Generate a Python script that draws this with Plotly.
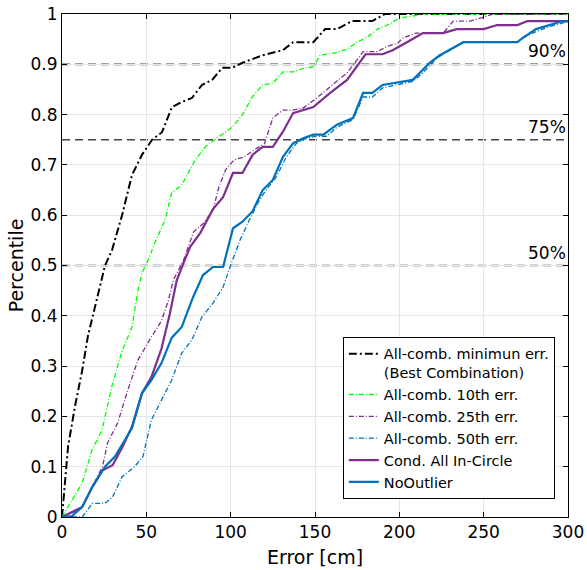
import plotly.graph_objects as go

# ---- data ----
min_x = [0, 3.6, 7.7, 11.9, 15.4, 21.3, 25.5, 29.6, 35.6, 41.5, 47.4, 53.4, 59.3, 65.2, 71, 77, 83, 89, 95, 101, 107, 111, 119, 131, 137, 149, 156, 163, 172, 184, 191.5, 300]
min_y = [0, 0.14, 0.22, 0.29, 0.36, 0.445, 0.50, 0.53, 0.60, 0.68, 0.72, 0.75, 0.765, 0.815, 0.825, 0.833, 0.859, 0.869, 0.893, 0.893, 0.903, 0.908, 0.918, 0.928, 0.944, 0.944, 0.97, 0.97, 0.986, 0.986, 1.0, 1.0]

p10_x = [0, 5.9, 11.9, 17.8, 23.7, 29.6, 35.6, 41.5, 45, 47.4, 51, 55, 61, 65, 71, 79, 85, 92.5, 101, 107, 113, 119, 125, 131, 137, 143, 149, 153, 161, 169, 175, 181, 187, 193, 200, 208, 214, 300]
p10_y = [0, 0.034, 0.067, 0.133, 0.173, 0.26, 0.33, 0.378, 0.45, 0.485, 0.51, 0.545, 0.59, 0.644, 0.66, 0.71, 0.736, 0.755, 0.775, 0.8, 0.836, 0.859, 0.862, 0.885, 0.885, 0.892, 0.895, 0.918, 0.922, 0.93, 0.944, 0.954, 0.97, 0.978, 0.992, 0.996, 1.0, 1.0]

p25_x = [0, 6, 12, 18, 24, 27, 33, 39, 45, 53, 59, 63, 66, 72, 78, 84, 89.5, 93, 97, 102, 108, 114, 120, 125, 131, 137, 143, 151, 159, 169, 173, 178.5, 187, 193, 199, 202, 210, 226, 232, 242, 250, 255.5, 300]
p25_y = [0, 0.008, 0.02, 0.06, 0.1, 0.147, 0.187, 0.252, 0.312, 0.358, 0.39, 0.43, 0.471, 0.51, 0.567, 0.584, 0.61, 0.656, 0.69, 0.71, 0.716, 0.73, 0.742, 0.793, 0.809, 0.809, 0.813, 0.833, 0.855, 0.883, 0.9, 0.925, 0.925, 0.936, 0.942, 0.952, 0.962, 0.962, 0.986, 0.986, 0.994, 1.0, 1.0]

p50_x = [0, 12, 18, 25.5, 30, 35.6, 43, 48, 53, 59, 65, 71, 77, 83, 89.5, 95.5, 99.6, 105.5, 111, 117, 121, 127, 133, 139, 145, 151, 157, 163, 172.5, 178.5, 184, 190, 198.5, 208, 214, 222, 238, 270, 273, 281, 289, 300]
p50_y = [0, 0, 0.027, 0.027, 0.04, 0.08, 0.1, 0.12, 0.193, 0.233, 0.272, 0.326, 0.352, 0.398, 0.425, 0.457, 0.497, 0.55, 0.59, 0.63, 0.65, 0.676, 0.716, 0.743, 0.753, 0.757, 0.757, 0.775, 0.79, 0.835, 0.835, 0.853, 0.859, 0.866, 0.883, 0.912, 0.944, 0.944, 0.952, 0.965, 0.975, 0.985]

cond_x = [0, 6, 12, 18, 24, 30, 36, 41.5, 47.4, 53, 59, 64, 68, 72, 76, 82, 89.5, 95.5, 101.4, 107, 113, 119, 125, 131, 137, 149, 159, 169, 177, 180, 190, 196, 204.5, 214, 226, 234, 250, 258, 270, 276, 300]
cond_y = [0, 0.01, 0.02, 0.06, 0.093, 0.103, 0.14, 0.18, 0.246, 0.278, 0.335, 0.405, 0.47, 0.505, 0.537, 0.565, 0.612, 0.636, 0.684, 0.684, 0.72, 0.736, 0.736, 0.766, 0.803, 0.815, 0.843, 0.869, 0.908, 0.92, 0.92, 0.928, 0.944, 0.962, 0.962, 0.97, 0.97, 0.978, 0.978, 0.986, 0.986]

noout_x = [0, 6, 12, 18, 25.5, 31.4, 37.3, 41.5, 47.4, 53, 59, 65, 71, 77.7, 83.6, 89.5, 95.5, 101.4, 107, 113, 119, 125, 131, 137, 143, 149, 155, 163, 172.5, 178.5, 184, 190, 208, 214, 218, 224, 238, 270, 273, 281, 289, 297, 300]
noout_y = [0, 0.002, 0.02, 0.06, 0.1, 0.12, 0.153, 0.177, 0.246, 0.272, 0.306, 0.356, 0.378, 0.437, 0.481, 0.497, 0.497, 0.574, 0.587, 0.608, 0.65, 0.67, 0.716, 0.743, 0.753, 0.76, 0.76, 0.78, 0.793, 0.843, 0.843, 0.859, 0.869, 0.889, 0.903, 0.918, 0.944, 0.944, 0.952, 0.97, 0.978, 0.986, 0.986]

ref_levels = [0.5, 0.75, 0.9]
ref_labels = ["50%", "75%", "90%"]

x_ticks = [0, 50, 100, 150, 200, 250, 300]
y_ticks = [0, 0.1, 0.2, 0.3, 0.4, 0.5, 0.6, 0.7, 0.8, 0.9, 1]
y_tick_text = ["0", "0.1", "0.2", "0.3", "0.4", "0.5", "0.6", "0.7", "0.8", "0.9", "1"]

FONT = "DejaVu Sans"
GREEN = "#00ff00"
PURPLE = "#7e2f8e"
BLUE = "#0072bd"

fig = go.Figure()

series = [
    (min_x, min_y, "All-comb. minimun err.<br>(Best Combination)", "black", 2, "8px,3px,2px,3px"),
    (p10_x, p10_y, "All-comb. 10th err.", GREEN, 1.3, "5px,2px,1px,2px"),
    (p25_x, p25_y, "All-comb. 25th err.", PURPLE, 1.3, "5px,2px,1px,2px"),
    (p50_x, p50_y, "All-comb. 50th err.", BLUE, 1.3, "5px,2px,1px,2px"),
    (cond_x, cond_y, "Cond. All In-Circle", PURPLE, 2.2, "solid"),
    (noout_x, noout_y, "NoOutlier", BLUE, 2.2, "solid"),
]
for xs, ys, name, color, w, dash in series:
    fig.add_trace(go.Scatter(x=xs, y=ys, mode="lines", name=name,
                             line=dict(color=color, width=w, dash=dash)))

for lvl, lab in zip(ref_levels, ref_labels):
    fig.add_shape(type="line", xref="paper", x0=0, x1=1, yref="y", y0=lvl, y1=lvl,
                  line=dict(color="#454545", width=1.7, dash="8px,5px"), layer="below")
    fig.add_annotation(x=300, y=lvl, xref="x", yref="y", text=lab, showarrow=False,
                       xanchor="right", yanchor="bottom", yshift=1,
                       font=dict(family=FONT, size=17, color="black"))

axis_common = dict(showline=True, linecolor="black", linewidth=1, mirror="ticks",
                   ticks="inside", ticklen=5, tickcolor="black",
                   showgrid=True, gridcolor="#e6e6e6", gridwidth=1, zeroline=False,
                   automargin=False,
                   tickfont=dict(family=FONT, size=17, color="black"))

fig.update_xaxes(range=[0, 300], tickvals=x_ticks,
                 title=dict(text="Error [cm]", font=dict(family=FONT, size=19, color="black"), standoff=9),
                 **axis_common)
fig.update_yaxes(range=[0, 1], tickvals=y_ticks, ticktext=y_tick_text,
                 title=dict(text="Percentile", font=dict(family=FONT, size=19, color="black"), standoff=1),
                 **axis_common)

fig.update_layout(
    width=587, height=570,
    margin=dict(l=62, r=19, t=14, b=53, autoexpand=False),
    plot_bgcolor="white", paper_bgcolor="white",
    font=dict(family=FONT, color="black"),
    legend=dict(x=0.974, y=0.036, xanchor="right", yanchor="bottom",
                bgcolor="white", bordercolor="black", borderwidth=1,
                font=dict(family=FONT, size=14.5, color="black"),
                valign="top", tracegroupgap=0, itemwidth=30),
    showlegend=True,
)

fig.write_html("out.html", config={"displayModeBar": False},
               post_script="document.body.style.margin='0';document.body.style.overflow='hidden';")
